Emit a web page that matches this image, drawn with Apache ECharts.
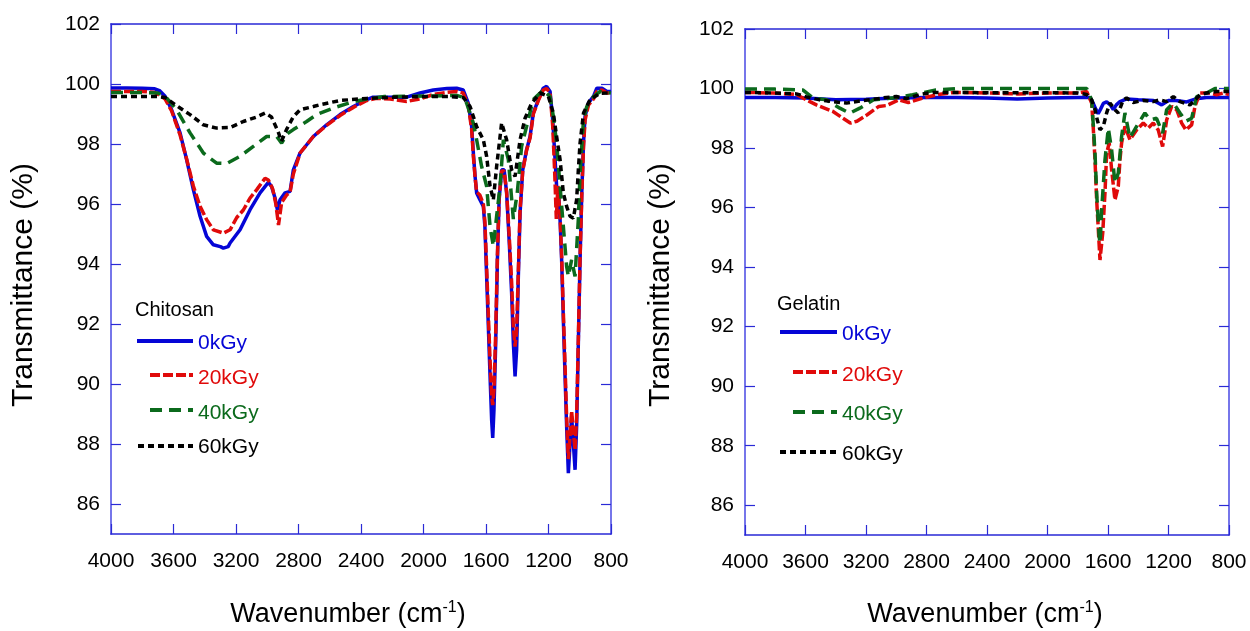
<!DOCTYPE html>
<html>
<head>
<meta charset="utf-8">
<script src="https://cdn.jsdelivr.net/npm/echarts@6/dist/echarts.min.js"></script>
<style>
html,body{margin:0;padding:0;background:#fff;}
#chart{width:1250px;height:631px;}
</style>
</head>
<body>
<div id="chart"></div>
<script>
// ---------- DATA ----------
var xTicks = [800, 1200, 1600, 2000, 2400, 2800, 3200, 3600, 4000];
var yTicks = [86, 88, 90, 92, 94, 96, 98, 100, 102];
var doseLabels = ['0kGy', '20kGy', '40kGy', '60kGy'];
var panelTitles = ['Chitosan', 'Gelatin'];

// Chitosan, 0 kGy: [wavenumber, transmittance]
var chitosan0 = [[4000,99.87],[3900,99.87],[3800,99.86],[3720,99.84],[3690,99.78],[3654,99.59],[3612,99.14],[3558,98.37],[3516,97.48],[3473,96.48],[3430,95.59],[3388,94.92],[3345,94.64],[3300,94.58],[3281,94.53],[3250,94.58],[3238,94.7],[3174,95.14],[3110,95.81],[3046,96.37],[2993,96.72],[2973,96.59],[2950,96.2],[2935,95.8],[2918,96.14],[2886,96.37],[2854,96.42],[2833,97.14],[2790,97.7],[2705,98.25],[2620,98.64],[2534,98.98],[2449,99.25],[2363,99.48],[2323,99.56],[2214,99.56],[2108,99.56],[2022,99.7],[1937,99.8],[1850,99.85],[1788,99.86],[1746,99.8],[1714,99.37],[1692,98.59],[1681,97.7],[1670,96.92],[1660,96.37],[1639,96.14],[1617,95.92],[1607,95.25],[1596,93.59],[1585,91.92],[1574,90.25],[1564,88.81],[1557,88.2],[1549,89.14],[1538,91.37],[1527,94.14],[1516,96.14],[1500,97.14],[1484,97.14],[1468,96.37],[1451,94.7],[1436,93.03],[1425,91.37],[1414,90.25],[1404,91.14],[1393,93.59],[1382,95.7],[1365,97.14],[1340,97.81],[1318,98.25],[1297,99.03],[1265,99.48],[1234,99.86],[1212,99.92],[1190,99.75],[1173,98.81],[1158,97.48],[1148,96.59],[1133,96.14],[1126,95.48],[1116,94.14],[1105,92.14],[1094,90.25],[1084,88.59],[1073,87.03],[1062,88.03],[1052,88.92],[1041,88.03],[1030,87.14],[1020,88.59],[1009,91.37],[998,94.14],[987,96.37],[976,98.03],[966,98.92],[944,99.37],[912,99.59],[891,99.86],[858,99.86],[826,99.75],[800,99.75]];
// Chitosan, 20 kGy
var chitosan20 = [[4000,99.75],[3800,99.75],[3720,99.72],[3680,99.6],[3654,99.5],[3612,99.1],[3558,98.3],[3516,97.5],[3473,96.6],[3430,95.92],[3388,95.48],[3345,95.14],[3281,95.03],[3238,95.14],[3195,95.55],[3153,95.8],[3110,96.2],[3067,96.48],[3014,96.86],[2993,96.8],[2965,96.5],[2945,96.0],[2928,95.3],[2908,96.05],[2876,96.3],[2854,96.4],[2833,97.0],[2790,97.7],[2705,98.25],[2620,98.62],[2534,98.95],[2449,99.22],[2363,99.45],[2300,99.52],[2214,99.5],[2108,99.42],[2022,99.5],[1937,99.65],[1850,99.72],[1788,99.75],[1746,99.7],[1714,99.3],[1692,98.5],[1681,97.6],[1670,96.9],[1660,96.4],[1639,96.3],[1617,96.0],[1607,95.4],[1596,93.9],[1585,92.3],[1574,90.8],[1564,89.6],[1557,89.3],[1549,89.8],[1538,91.7],[1527,94.3],[1516,96.2],[1500,97.1],[1484,97.1],[1468,96.4],[1451,94.9],[1436,93.4],[1425,91.9],[1414,91.25],[1404,91.8],[1393,93.8],[1382,95.8],[1365,97.1],[1340,97.8],[1318,98.2],[1297,99.0],[1265,99.45],[1234,99.8],[1212,99.85],[1190,99.7],[1173,98.6],[1160,97.0],[1150,95.5],[1140,96.6],[1126,95.6],[1116,94.3],[1105,92.4],[1094,90.6],[1084,88.9],[1073,87.5],[1062,88.3],[1052,89.1],[1041,88.4],[1030,87.8],[1020,88.9],[1009,91.5],[998,94.2],[987,96.3],[976,97.9],[966,98.8],[944,99.3],[912,99.5],[891,99.75],[858,99.8],[826,99.7],[800,99.7]];
// Chitosan, 40 kGy
var chitosan40 = [[4000,99.72],[3800,99.72],[3700,99.7],[3654,99.6],[3580,99.14],[3494,98.37],[3409,97.7],[3324,97.36],[3260,97.35],[3174,97.59],[3089,97.92],[3004,98.25],[2940,98.25],[2908,98.03],[2870,98.35],[2833,98.48],[2748,98.75],[2684,98.98],[2577,99.2],[2451,99.41],[2363,99.5],[2250,99.58],[2100,99.59],[1950,99.6],[1788,99.62],[1740,99.55],[1724,99.36],[1681,98.7],[1660,98.14],[1628,97.25],[1596,96.59],[1574,95.25],[1553,94.59],[1532,95.59],[1510,96.59],[1489,98.14],[1457,97.48],[1425,95.5],[1400,96.37],[1372,97.92],[1340,98.59],[1298,99.48],[1234,99.8],[1190,99.58],[1169,98.92],[1148,98.03],[1126,96.59],[1105,95.25],[1084,93.92],[1073,93.59],[1052,94.14],[1030,93.59],[1009,95.5],[998,97.03],[976,98.81],[955,99.25],[912,99.58],[870,99.75],[800,99.7]];
// Chitosan, 60 kGy
var chitosan60 = [[4000,99.58],[3800,99.58],[3700,99.58],[3654,99.55],[3558,99.2],[3494,98.98],[3409,98.64],[3324,98.53],[3238,98.55],[3153,98.75],[3068,98.9],[3014,99.03],[2973,98.9],[2931,98.42],[2909,98.09],[2877,98.48],[2834,98.9],[2790,99.14],[2705,99.25],[2662,99.31],[2534,99.45],[2363,99.52],[2200,99.56],[2000,99.58],[1830,99.58],[1745,99.55],[1702,99.25],[1660,98.58],[1617,98.14],[1596,97.59],[1574,96.59],[1553,96.14],[1532,97.25],[1500,98.7],[1468,98.14],[1436,97.14],[1414,96.92],[1382,98.14],[1350,98.86],[1308,99.36],[1254,99.7],[1201,99.59],[1169,99.03],[1148,98.25],[1126,97.48],[1105,96.37],[1084,95.92],[1062,95.59],[1041,95.53],[1020,96.14],[1009,97.14],[998,98.03],[976,99.03],[934,99.48],[870,99.69],[800,99.7]];

// Gelatin, 0 kGy
var gelatin0 = [[4000,99.7],[3800,99.7],[3600,99.68],[3400,99.62],[3200,99.64],[3000,99.68],[2800,99.7],[2600,99.7],[2400,99.68],[2200,99.65],[2000,99.68],[1800,99.7],[1719,99.7],[1698,99.51],[1680,99.3],[1665,99.15],[1650,99.3],[1631,99.5],[1609,99.55],[1585,99.45],[1565,99.29],[1545,99.45],[1521,99.56],[1477,99.65],[1400,99.62],[1300,99.6],[1245,99.45],[1200,99.6],[1150,99.6],[1080,99.55],[1014,99.66],[950,99.7],[800,99.7]];
// Gelatin, 20 kGy
var gelatin20 = [[4000,99.87],[3815,99.85],[3660,99.8],[3594,99.62],[3528,99.45],[3418,99.23],[3352,99.0],[3304,98.84],[3260,98.9],[3192,99.12],[3115,99.4],[3062,99.43],[2983,99.62],[2920,99.53],[2830,99.67],[2724,99.8],[2621,99.87],[2400,99.85],[2200,99.82],[2000,99.85],[1800,99.85],[1741,99.9],[1708,99.51],[1698,98.73],[1686,97.6],[1675,96.26],[1665,95.36],[1653,94.24],[1635,95.14],[1620,96.49],[1609,97.83],[1592,98.17],[1576,97.27],[1554,96.26],[1532,96.71],[1521,97.6],[1510,98.17],[1488,98.73],[1455,98.28],[1411,98.61],[1367,98.84],[1334,98.67],[1301,98.84],[1268,98.61],[1239,98.05],[1212,98.95],[1179,99.4],[1146,99.29],[1113,98.84],[1085,98.61],[1047,98.78],[1025,99.4],[992,99.85],[926,99.85],[882,99.79],[838,99.85],[800,99.8]];
// Gelatin, 40 kGy
var gelatin40 = [[4000,99.98],[3800,99.98],[3616,99.95],[3550,99.68],[3461,99.62],[3373,99.34],[3307,99.17],[3241,99.34],[3150,99.62],[2995,99.7],[2892,99.79],[2738,99.95],[2600,100.0],[2200,100.0],[1800,100.0],[1741,100.0],[1708,99.62],[1698,98.84],[1686,97.83],[1675,96.49],[1658,95.0],[1652,94.8],[1642,95.92],[1620,97.6],[1598,98.67],[1576,97.94],[1554,96.82],[1532,97.16],[1510,98.39],[1488,99.18],[1455,98.34],[1411,98.73],[1356,99.18],[1323,98.95],[1279,99.0],[1239,98.5],[1212,99.29],[1168,99.51],[1124,99.18],[1085,98.9],[1047,99.0],[1014,99.73],[948,99.85],[893,100.0],[838,100.0],[800,100.0]];
// Gelatin, 60 kGy
var gelatin60 = [[4000,99.87],[3800,99.85],[3660,99.82],[3594,99.72],[3506,99.62],[3418,99.56],[3329,99.51],[3241,99.58],[3153,99.64],[3065,99.7],[2999,99.73],[2932,99.66],[2844,99.8],[2758,99.87],[2400,99.86],[2000,99.86],[1800,99.85],[1741,99.8],[1708,99.62],[1686,99.29],[1671,98.95],[1653,98.61],[1631,98.73],[1609,99.18],[1587,99.51],[1554,99.29],[1532,99.18],[1499,99.62],[1477,99.68],[1433,99.53],[1367,99.6],[1301,99.56],[1257,99.62],[1212,99.56],[1168,99.73],[1124,99.56],[1058,99.45],[1025,99.62],[992,99.79],[948,99.85],[882,99.9],[800,99.9]];

// ---------- STYLE ----------
var FONT = '"Liberation Sans", Arial, Helvetica, sans-serif';
var colors = ['#0505d6', '#e00a0a', '#0b6a1c', '#000000'];
var dashes = ['solid', [10, 3], [12, 7], [6, 4]];
var LW = 3.5;
var axDark = '#2a2ad6', axLight = '#7676ea';

var grids = [
  {left: 111, top: 24, width: 500, height: 510},
  {left: 745, top: 29, width: 484, height: 506}
];

function xAx(gi, pos) {
  return {
    gridIndex: gi, type: 'value', inverse: true, min: 800, max: 4000, interval: 400,
    position: pos,
    axisLine: {show: true, onZero: false, lineStyle: {color: axDark, width: 1.5}},
    axisTick: {show: true, inside: true, length: 10, customValues: xTicks, lineStyle: {color: axDark, width: 1.2}},
    axisLabel: {show: pos === 'bottom', customValues: xTicks, color: '#000', fontSize: 21, fontFamily: FONT, margin: 17,
      formatter: function (v) { return String(v); }},
    splitLine: {show: false}
  };
}
function yAx(gi, pos) {
  return {
    gridIndex: gi, type: 'value', min: 85, max: 102,
    position: pos,
    axisLine: {show: true, onZero: false, lineStyle: {color: axLight, width: 2}},
    axisTick: {show: true, inside: true, length: 10, customValues: yTicks, lineStyle: {color: axDark, width: 1.2}},
    axisLabel: {show: pos === 'left', customValues: yTicks, color: '#000', fontSize: 21, fontFamily: FONT, margin: 11,
      formatter: function (v) { return String(v); }},
    splitLine: {show: false}
  };
}

var panels = [[chitosan0, chitosan20, chitosan40, chitosan60], [gelatin0, gelatin20, gelatin40, gelatin60]];
var series = [];
panels.forEach(function (sets, gi) {
  sets.forEach(function (d, k) {
    series.push({
      type: 'line', name: doseLabels[k], xAxisIndex: gi * 2, yAxisIndex: gi * 2,
      data: d, showSymbol: false, symbol: 'none', smooth: false, animation: false,
      lineStyle: {color: colors[k], width: LW, type: dashes[k]}, z: 2 + k
    });
  });
});

// legends (inside each panel) and titles
var graphics = [];
function legendBlock(p) {
  graphics.push({type: 'text', x: p.tx, y: p.ty, style: {text: p.title, fontSize: 20, fontFamily: FONT, fill: '#000', textVerticalAlign: 'middle'}});
  for (var k = 0; k < 4; k++) {
    var ly = p.ly[k];
    graphics.push({type: 'line', shape: {x1: p.lx1[k], y1: ly, x2: p.lx2, y2: ly},
      style: {stroke: colors[k], lineWidth: 4, lineDash: k === 0 ? null : dashes[k]}});
    graphics.push({type: 'text', x: p.labX, y: p.labY[k], style: {text: doseLabels[k], fontSize: 21, fontFamily: FONT, fill: colors[k], textVerticalAlign: 'middle'}});
  }
}
legendBlock({title: panelTitles[0], tx: 135, ty: 310, lx1: [137, 150, 150, 138], lx2: 193, ly: [341, 375, 410, 446], labX: 198, labY: [343, 378, 413, 447]});
legendBlock({title: panelTitles[1], tx: 777, ty: 304, lx1: [780, 793, 793, 780], lx2: 837, ly: [332, 372, 412, 452], labX: 842, labY: [334, 375, 414, 454]});

function xTitle(cx) {
  graphics.push({type: 'text', x: cx, y: 615, style: {
    text: '{a|Wavenumber (cm}{b|-1}{a|)}', textAlign: 'center', textVerticalAlign: 'middle',
    rich: {a: {fontSize: 27, fontFamily: FONT, fill: '#000'}, b: {fontSize: 16, fontFamily: FONT, fill: '#000', padding: [0, 0, 14, 0]}}
  }});
}
function yTitle(cx) {
  graphics.push({type: 'text', x: cx, y: 285, rotation: Math.PI / 2, style: {
    text: 'Transmittance (%)', textAlign: 'center', textVerticalAlign: 'middle', fontSize: 30, fontFamily: FONT, fill: '#000'
  }});
}
xTitle(348); xTitle(985);
yTitle(24); yTitle(661);

var chart = echarts.init(document.getElementById('chart'), null, {renderer: 'canvas'});
chart.setOption({
  animation: false,
  backgroundColor: '#fff',
  grid: grids,
  xAxis: [xAx(0, 'bottom'), xAx(0, 'top'), xAx(1, 'bottom'), xAx(1, 'top')],
  yAxis: [yAx(0, 'left'), yAx(0, 'right'), yAx(1, 'left'), yAx(1, 'right')],
  series: series,
  graphic: graphics
});
</script>
</body>
</html>
